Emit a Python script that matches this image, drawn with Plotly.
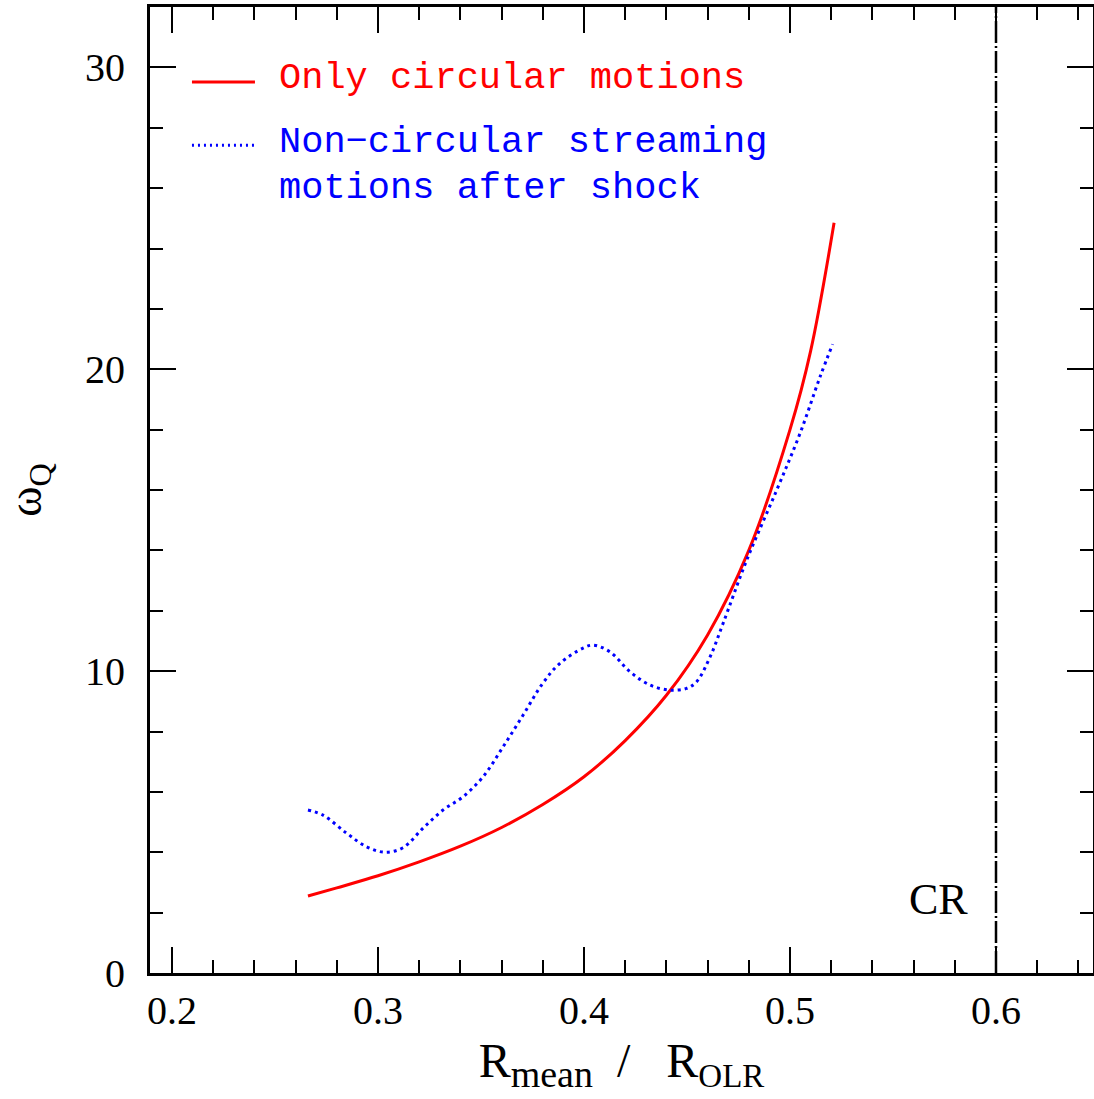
import plotly.graph_objects as go

# ---- data ----
r_circ = [0.266, 0.28, 0.30, 0.32, 0.34, 0.36, 0.38, 0.40, 0.42, 0.44, 0.46, 0.48, 0.50, 0.51, 0.5214]
w_circ = [2.55, 2.82, 3.22, 3.68, 4.2, 4.82, 5.58, 6.5, 7.7, 9.2, 11.2, 14.0, 18.0, 20.6, 24.85]

r_noncirc = [0.266, 0.2733, 0.2848, 0.2945, 0.3034, 0.3121, 0.3219, 0.3316, 0.3413, 0.351, 0.3607,
             0.3704, 0.38, 0.3883, 0.3995, 0.4044, 0.4126, 0.4223, 0.432, 0.4417, 0.4498, 0.4547,
             0.4612, 0.4675, 0.479, 0.4935, 0.5049, 0.5146, 0.5207]
w_noncirc = [5.4, 5.23, 4.63, 4.18, 4.0, 4.15, 4.8, 5.4, 5.84, 6.5, 7.49,
             8.54, 9.6, 10.26, 10.76, 10.86, 10.64, 9.98, 9.54, 9.37, 9.43, 9.65,
             10.47, 11.58, 13.68, 15.99, 17.88, 19.75, 20.83]

cr_x = 0.6
cr_label = "CR"
x_ticks = [0.2, 0.3, 0.4, 0.5, 0.6]
y_ticks = [0, 10, 20, 30]
legend_labels = ["Only circular motions", "Non\u2212circular streaming", "motions after shock"]

SERIF = "Liberation Serif"
MONO = "Liberation Mono"
NB = "\u00a0"

fig = go.Figure()
fig.add_trace(go.Scatter(x=r_circ, y=w_circ, mode="lines", line=dict(color="#ff0000", width=3),
                         name=legend_labels[0], showlegend=False, line_shape="spline"))
fig.add_trace(go.Scatter(x=r_noncirc, y=w_noncirc, mode="lines",
                         line=dict(color="#0000ff", width=3, dash="3px,4px"),
                         name=legend_labels[1] + " " + legend_labels[2], showlegend=False,
                         line_shape="spline"))

# corotation vertical line
fig.add_shape(type="line", xref="x", yref="paper", x0=cr_x, x1=cr_x, y0=0, y1=1,
              line=dict(color="black", width=2.5, dash="22px,3px,2px,3px"))
fig.add_annotation(x=cr_x - 0.0126, y=2.42, xref="x", yref="y", text=cr_label, showarrow=False,
                   xanchor="right", yanchor="middle", font=dict(family=SERIF, size=44, color="black"))

# legend drawn manually
fig.add_shape(type="line", xref="paper", yref="paper", x0=0.0445, x1=0.1113, y0=0.9224, y1=0.9224,
              line=dict(color="#ff0000", width=3))
fig.add_shape(type="line", xref="paper", yref="paper", x0=0.0445, x1=0.1113, y0=0.857, y1=0.857,
              line=dict(color="#0000ff", width=3, dash="2px,4px"))
fig.add_annotation(x=0.1347, y=0.9265, xref="paper", yref="paper", text=legend_labels[0],
                   showarrow=False, xanchor="left", yanchor="middle",
                   font=dict(family=MONO, size=37, color="#ff0000"))
fig.add_annotation(x=0.1347, y=0.860, xref="paper", yref="paper", text=legend_labels[1],
                   showarrow=False, xanchor="left", yanchor="middle",
                   font=dict(family=MONO, size=37, color="#0000ff"))
fig.add_annotation(x=0.1347, y=0.8126, xref="paper", yref="paper", text=legend_labels[2],
                   showarrow=False, xanchor="left", yanchor="middle",
                   font=dict(family=MONO, size=37, color="#0000ff"))

axis_common = dict(showgrid=False, zeroline=False, showline=True, linecolor="black", linewidth=3,
                   mirror="ticks", ticks="inside", ticklen=26, tickwidth=2, tickcolor="black",
                   tickfont=dict(family=SERIF, size=40, color="black"))

x_title = ("R<sub><span style='font-size:38px'>mean</span></sub>" + NB * 2 + "/" + NB * 3 +
           "R<sub><span style='font-size:33px'>OLR</span></sub>")

fig.update_xaxes(range=[0.18932, 0.64709], tickvals=x_ticks, ticktext=[str(v) for v in x_ticks],
                 minor=dict(dtick=0.02, tick0=0.2, ticks="inside", ticklen=13, tickwidth=2, tickcolor="black"),
                 title=dict(text=x_title, font=dict(family=SERIF, size=48, color="black"), standoff=12),
                 **axis_common)
fig.update_yaxes(range=[0, 32], tickvals=y_ticks, ticktext=[str(v) for v in y_ticks],
                 ticklabelstandoff=14,
                 minor=dict(dtick=2, tick0=0, ticks="inside", ticklen=13, tickwidth=2, tickcolor="black"),
                 title=dict(text="\u03c9<sub>Q</sub>", font=dict(family=SERIF, size=46, color="black"),
                            standoff=34),
                 **axis_common)

fig.update_layout(width=1094, height=1099, margin=dict(l=150, r=1, t=7, b=126, autoexpand=False),
                  paper_bgcolor="white", plot_bgcolor="white", showlegend=False)

fig.write_html("out.html")
